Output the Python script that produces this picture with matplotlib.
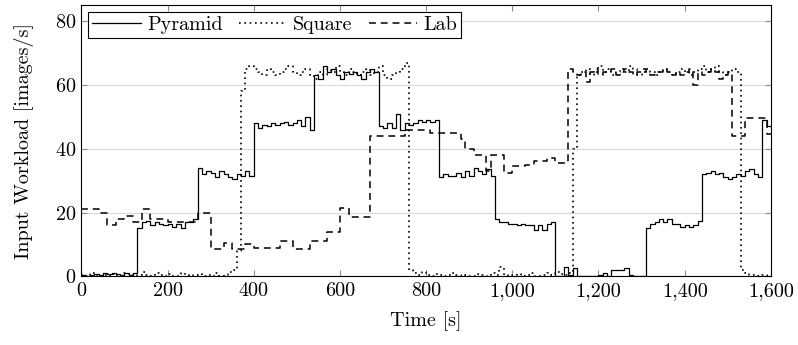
import numpy as np
import matplotlib
matplotlib.use("Agg")
import matplotlib.pyplot as plt
from matplotlib.ticker import FuncFormatter

plt.rcParams["font.family"] = ["cmr10", "DejaVu Serif"]
plt.rcParams["axes.formatter.use_mathtext"] = True
plt.rcParams["mathtext.fontset"] = "cm"

# one value per 10 s bin, starting at t = 0
t = np.arange(0, 1600, 10)

pyramid = [0.3, 0, 0.5, 0.8, 0.5, 1, 0.6, 1.2, 0.8, 0.5, 1, 0.4, 1,
           15, 17, 17.5, 16, 17, 16.5, 16, 16.5, 15.5, 16.5, 15, 17, 17, 18,
           34, 32, 33, 32.5, 31, 33, 32, 31, 30.5, 32, 31.5, 33, 31.5,
           48, 46.5, 47.5, 47, 48, 47.5, 48, 48.5, 47.5, 48, 49, 47, 50, 46,
           63, 62, 66, 64, 65, 63, 62, 64, 63.5, 64, 63, 62, 64, 65, 64,
           47, 46.5, 48, 46.5, 51, 46, 48, 47.5, 48, 49, 48.5, 49, 48.5, 49,
           31, 32, 31.5, 31.5, 32.5, 31, 33, 31.5, 34, 33, 32, 33.5, 31.5,
           18, 17, 17, 16.5, 16.5, 16, 16.5, 16, 16, 14.5, 16, 14.5, 16.5, 17,
           0, 0, 3, 0.5, 2.5, 0, 0, 0, 0, 0, 0.5, 1, 0, 2, 2, 2, 2.5, 0.5, 0, 0, 0,
           15, 16.5, 17, 18, 17, 18, 16.5, 16.5, 15.5, 16, 15.5, 16, 17.5,
           32, 32.5, 33, 32, 32.5, 31, 30.5, 31, 32, 31.5, 33, 33.5, 32, 31,
           49, 47]

square = [0.5, 0, 1, 0.3, 0, 0.5, 0, 0.8, 0.2, 0, 1, 0.5, 0, 0.3, 1.5, 0.5, 0, 1,
          0.3, 0, 0.6, 0.2, 0, 1, 0.5, 0, 0.3, 0.8, 0, 0.5, 0.2, 1, 0, 0.5, 1.5, 2,
          8, 58,
          65, 66, 65, 64, 63, 65, 64, 63, 64, 65, 66, 64, 63, 64, 65, 63, 62, 64, 63,
          65, 64, 66, 64, 63, 65, 64, 63, 64, 65, 63, 64, 66, 63, 62, 63, 64, 65, 67,
          2, 1, 0.5, 1.5, 0.5, 0, 0.8, 0.3, 0, 0.5, 1, 0.3, 0, 0.5, 0.2, 0, 0.8, 0.5, 0,
          1, 0.3, 3, 0.5, 0, 0.3, 0.6, 0, 0.4, 1, 0.2, 0, 0.5, 1, 0.3, 1.5, 0.8, 0.5, 1,
          40,
          63, 64, 65, 63, 64, 66, 64, 65, 63, 64, 65, 64, 66, 65, 63, 64, 65, 64, 63,
          64, 65, 64, 63, 64, 65, 64, 63, 64, 65, 66, 64, 65, 66, 64, 63, 64, 65, 64,
          2, 1, 0.5, 0.3, 0, 0.5, 0.2]

lab = [21, 21, 21, 21, 20, 20, 16, 16, 18, 18, 19, 19, 17, 17, 21, 21,
       18, 18, 18, 18, 17, 17, 17, 17, 17, 17, 17, 20, 20, 20,
       8.5, 8.5, 8.5, 10.5, 10.5, 8.5, 8.5, 8.5, 10, 10, 9, 9, 9, 9, 9, 9,
       11, 11, 11, 8.5, 8.5, 8.5, 8.5, 11, 11, 11, 11, 14, 14, 14, 21.5, 21.5,
       18.5, 18.5, 18.5, 18.5, 18.5,
       44, 44, 44, 44, 44, 44, 44, 44, 46, 46, 46, 46, 46, 46,
       45, 45, 45, 45, 45, 45, 45, 43, 40, 40, 38, 38, 38, 33, 38, 38, 38,
       32.5, 32.5, 34.5, 34.5, 34.5, 35, 35, 36, 36, 36, 37, 37, 35.5, 35.5, 35.5,
       65, 64, 63, 64, 61, 64, 65, 63, 64, 64, 65, 63, 64, 65, 64, 63, 64, 65, 64,
       63, 64, 64, 65, 64, 63, 64, 63, 64, 65, 60, 64, 63, 64, 65, 64, 62, 63, 64,
       44, 44, 44, 49.5, 49.5, 49.5, 49.5, 49.5, 44.5]

series = [("Pyramid", pyramid, "-", 0.9), ("Square", square, (0, (1, 2.2)), 1.2),
          ("Lab", lab, (0, (4.5, 3.2)), 1.1)]

fig = plt.figure(figsize=(7.98, 3.45), dpi=100)
ax = fig.add_axes([0.102, 0.199, 0.864, 0.786])

for name, vals, ls, lw in series:
    tt = np.append(t, 1600)
    vv = np.append(vals, vals[-1])
    ax.plot(tt, vv, drawstyle="steps-post", color="black", lw=lw,
            linestyle=ls, label=name)

ax.set_xlim(0, 1600)
ax.set_ylim(0, 85)
ax.set_xticks(np.arange(0, 1601, 200))
ax.set_yticks(np.arange(0, 81, 20))
ax.xaxis.set_major_formatter(FuncFormatter(lambda v, p: f"{v:,.0f}"))
ax.grid(axis="y", color="0.85", lw=0.8)
ax.set_axisbelow(True)
ax.tick_params(direction="in", length=4, width=0.8, color="0.55",
               top=True, right=True, labelsize=14.5, pad=4)
for s in ax.spines.values():
    s.set_linewidth(0.8)

ax.set_xlabel("Time [s]", fontsize=14.5, labelpad=8)
ax.set_ylabel("Input Workload [images/s]", fontsize=14.5, labelpad=15)

leg = ax.legend(loc="upper left", ncol=3, fontsize=14.5, frameon=True,
                fancybox=False, edgecolor="black", framealpha=1,
                handlelength=2.4, handletextpad=0.3, columnspacing=0.8,
                borderpad=0.2, borderaxespad=0.35)
leg.get_frame().set_linewidth(0.8)

fig.savefig("out.png", dpi=100)
